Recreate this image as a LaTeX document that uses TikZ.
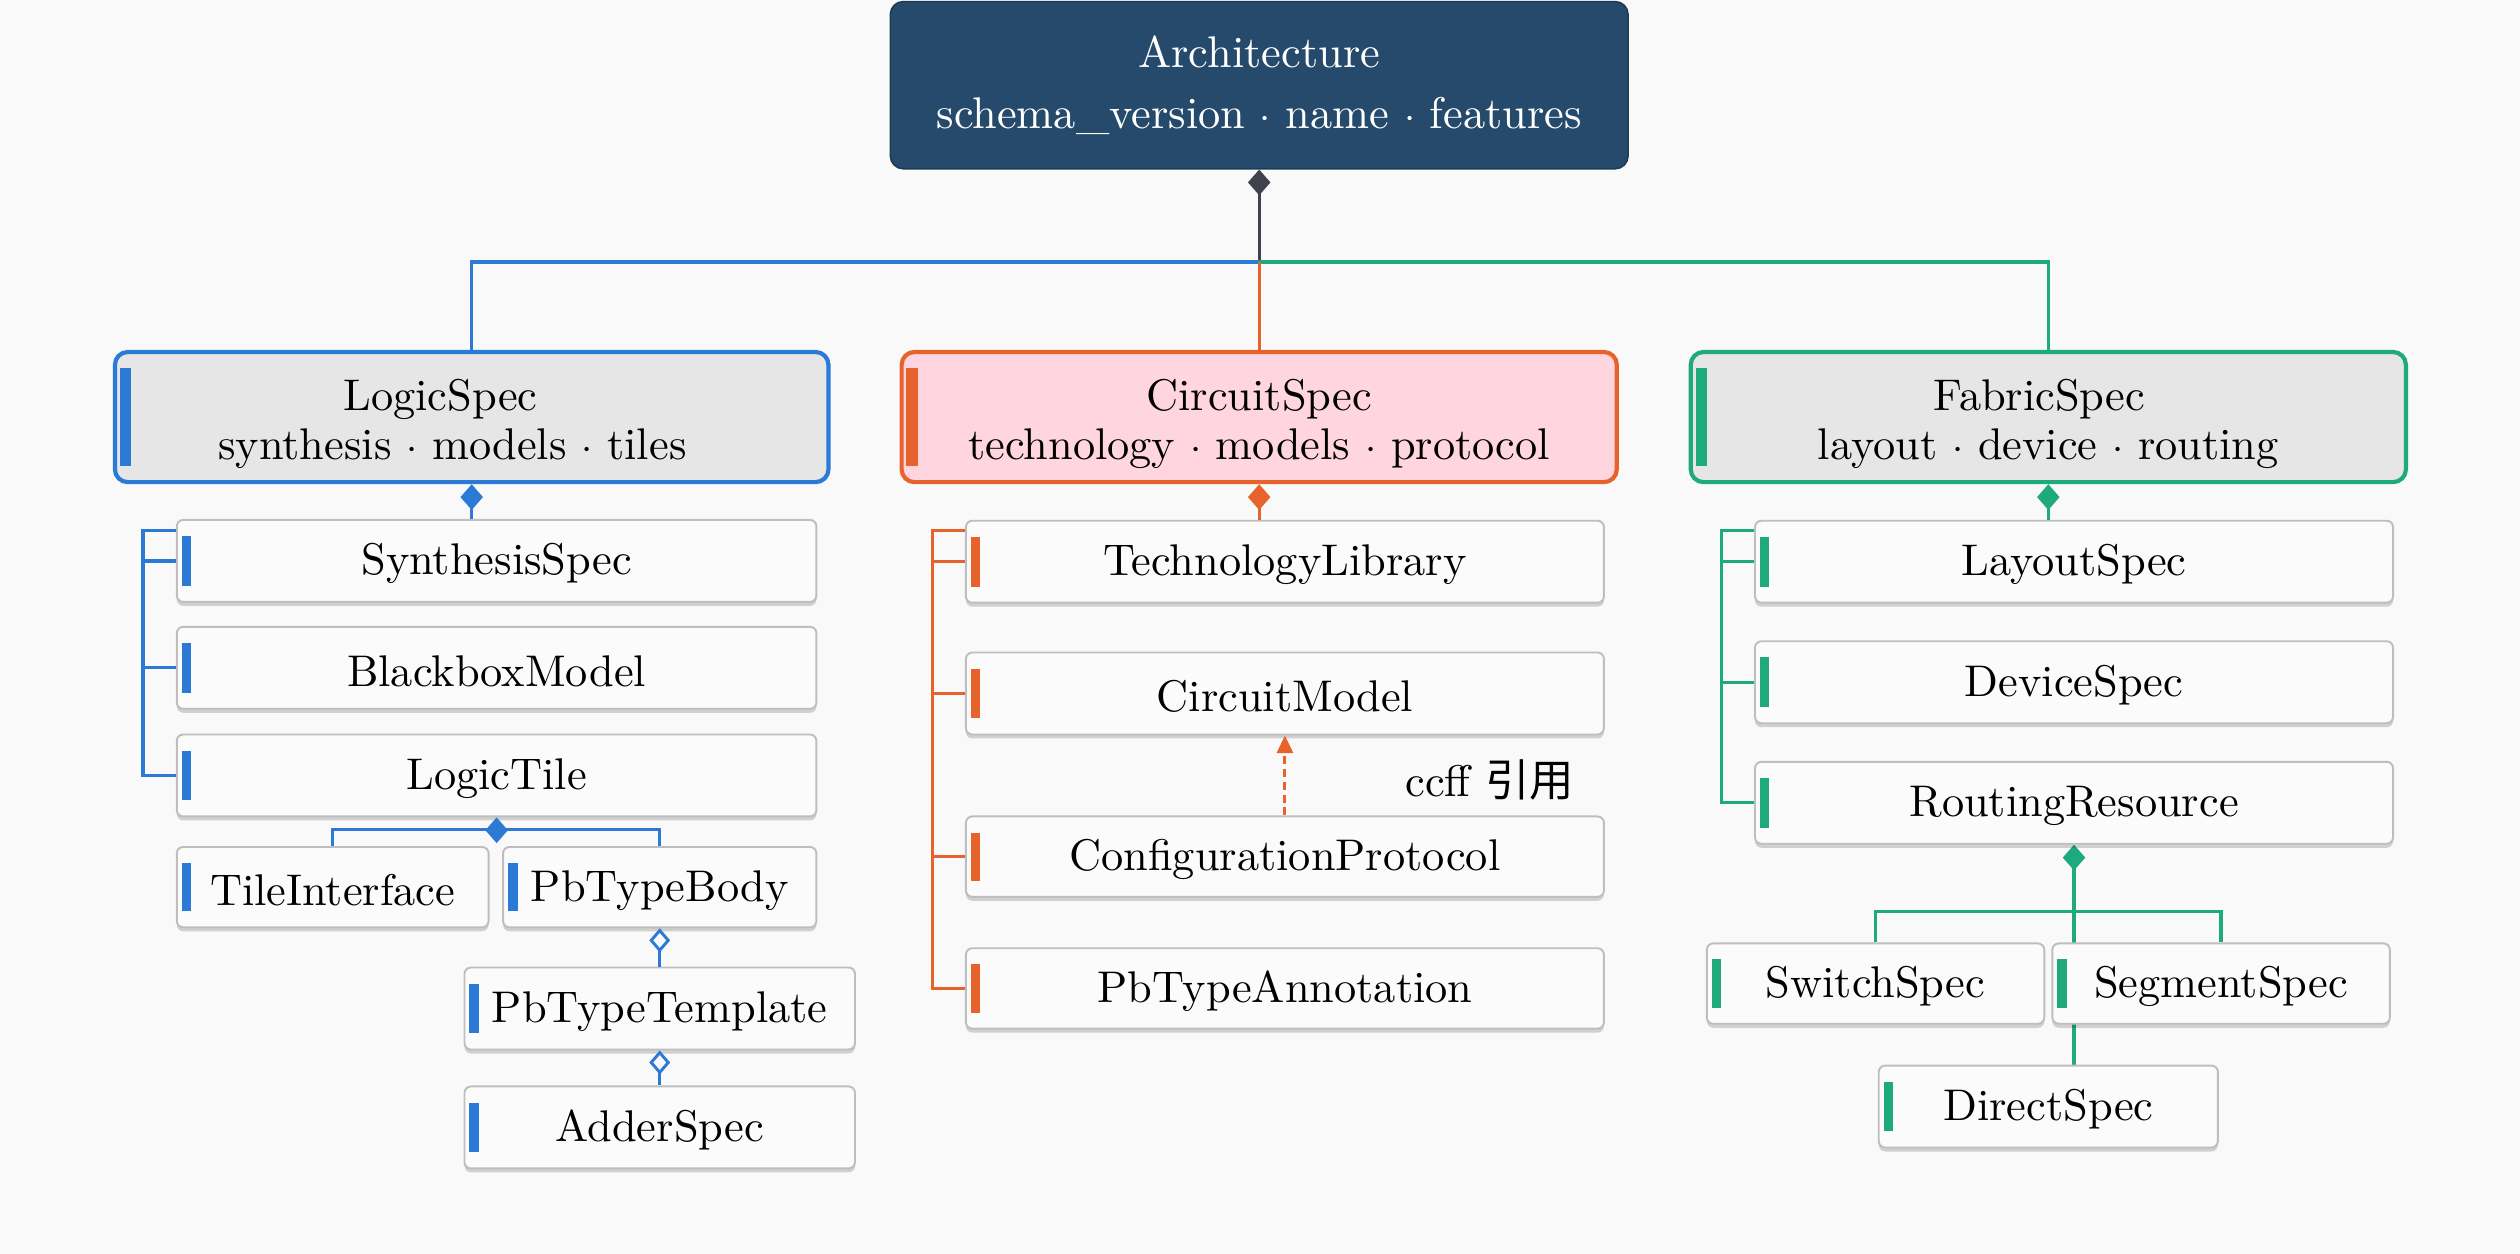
\documentclass[tikz,border=0pt]{standalone}
\usepackage{fontspec}
\setmainfont{lmroman10-regular}[Extension=.otf, BoldFont=lmroman10-bold, ItalicFont=lmroman10-italic]
\newfontfamily\cjk{Noto Sans CJK SC}
\usetikzlibrary{arrows.meta,shadows}
\pgfdeclarelayer{bg}
\pgfsetlayers{bg,main}
\definecolor{bgc}{RGB}{249,249,249}
\definecolor{archc}{RGB}{38,74,107}
\definecolor{grayc}{RGB}{62,66,78}
\definecolor{bluec}{RGB}{42,122,214}
\definecolor{orc}{RGB}{232,98,44}
\definecolor{grc}{RGB}{30,170,125}
\definecolor{pinkf}{RGB}{255,214,224}
\definecolor{grayf}{RGB}{230,230,230}
\definecolor{cbord}{RGB}{190,190,190}
\definecolor{cfill}{RGB}{251,251,251}
\newcommand{\upstrut}{\rule{0pt}{28pt}}
\tikzset{
  base/.style={rectangle, inner sep=0pt, align=center},
  topbox/.style={base, fill=archc, draw=archc!80!black, line width=1pt,
    rounded corners=8pt, text=white, minimum width=459pt, minimum height=104pt,
    font=\fontsize{27.6}{32}\selectfont},
  spec/.style={base, draw=#1, line width=2.6pt, rounded corners=8pt,
    minimum width=445pt, minimum height=81pt,
    font=\fontsize{27.6}{30}\selectfont,
    path picture={\fill[#1, sharp corners] ([xshift=3pt,yshift=10pt]path picture bounding box.south west)
      rectangle ([xshift=10pt,yshift=-10pt]path picture bounding box.north west);}},
  child/.style={base, draw=cbord, fill=cfill, line width=1.2pt, rounded corners=4pt,
    minimum height=51pt,
    execute at begin node={\rule{0pt}{23pt}},
    drop shadow={shadow xshift=0pt, shadow yshift=-2.5pt, opacity=0.16, fill=black},
    path picture={\fill[#1, sharp corners] ([xshift=3pt,yshift=10pt]path picture bounding box.south west)
      rectangle ([xshift=9pt,yshift=-10pt]path picture bounding box.north west);}},
  conn/.style={draw=#1, line width=2pt},
  comp/.style={draw=#1, line width=2pt, arrows={Diamond[length=16pt,width=14pt,fill=#1]-}},
  agg/.style={draw=#1, line width=1.8pt, arrows={Diamond[open,length=15pt,width=13pt,fill=bgc]-}},
  dref/.style={draw=#1, line width=1.8pt, dash pattern=on 5pt off 3pt,
    arrows={-Triangle[length=11pt,width=10pt,fill=#1]}},
}
\begin{document}
\begin{tikzpicture}[x=1pt,y=-1pt,font=\fontsize{27.6}{32}\selectfont]
\begin{pgfonlayer}{bg}
\fill[bgc] (0,0) rectangle (1568,780);
\end{pgfonlayer}
\useasboundingbox (0,0) rectangle (1568,780);

% top
\node[topbox] (arch) at (783.5,53) {Architecture\\[6pt]schema\_version $\cdot$ name $\cdot$ features};

% row 1
\node[spec=bluec, fill=grayf, minimum width=444pt] (logic) at (293.5,259.5)
  {\upstrut LogicSpec\hspace*{39pt}\\synthesis $\cdot$ models $\cdot$ tiles\hspace*{24pt}};
\node[spec=orc, fill=pinkf] (circuit) at (783.5,259.5)
  {\upstrut CircuitSpec\\technology $\cdot$ models $\cdot$ protocol};
\node[spec=grc, fill=grayf] (fabric) at (1274.5,259.5)
  {\upstrut FabricSpec\hspace*{11pt}\\layout $\cdot$ device $\cdot$ routing};

% logic children
\node[child=bluec, minimum width=398pt] (synth) at (309,349) {SynthesisSpec};
\node[child=bluec, minimum width=398pt] (bbox) at (309,415.5) {BlackboxModel};
\node[child=bluec, minimum width=398pt] (ltile) at (309,482.5) {LogicTile};
\node[child=bluec, minimum width=194pt, minimum height=50pt] (tintf) at (207,552) {TileInterface};
\node[child=bluec, minimum width=195pt, minimum height=50pt] (pbbody) at (410.5,552) {PbTypeBody};
\node[child=bluec, minimum width=243pt] (pbtemp) at (410.5,627.5) {PbTypeTemplate};
\node[child=bluec, minimum width=243pt] (adder) at (410.5,701.5) {AdderSpec};

% circuit children
\node[child=orc, minimum width=397pt] (techlib) at (799.5,349.5) {TechnologyLibrary};
\node[child=orc, minimum width=397pt] (cmodel) at (799.5,431.5) {CircuitModel};
\node[child=orc, minimum width=397pt, minimum height=50pt] (cprot) at (799.5,533) {ConfigurationProtocol};
\node[child=orc, minimum width=397pt, minimum height=50pt] (pbann) at (799.5,615) {PbTypeAnnotation};
\node[font=\fontsize{27.6}{32}\selectfont] (lbl) at (927,485) {ccff {\cjk 引用}};

% fabric children
\node[child=grc, minimum width=397pt] (layout) at (1290.5,349.5) {LayoutSpec};
\node[child=grc, minimum width=397pt] (device) at (1290.5,424.5) {DeviceSpec};
\node[child=grc, minimum width=397pt] (routing) at (1290.5,499.5) {RoutingResource};
\node[child=grc, minimum width=210pt, minimum height=50pt] (switch) at (1167,612) {SwitchSpec};
\node[child=grc, minimum width=210pt, minimum height=50pt] (segment) at (1382,612) {SegmentSpec};
\node[child=grc, minimum width=211pt] (direct) at (1274.5,688.5) {DirectSpec};

% junctions
\coordinate (aj) at (783.5,163);
\coordinate (tl) at (89,330);
\coordinate (tc) at (580,330);
\coordinate (tr) at (1071,330);
\coordinate (lj) at (309,516);
\coordinate (rj) at (1290.5,567);

% top connectors
\draw[comp=grayc] (arch.south) -- (aj);
\draw[conn=bluec] (aj) -| (logic.north);
\draw[conn=grc] (aj) -| (fabric.north);
\draw[conn=orc] (aj) -- (circuit.north);

\draw[comp=bluec] (logic.south) -- (logic.south |- synth.north);
\draw[comp=orc] (circuit.south) -- (circuit.south |- techlib.north);
\draw[comp=grc] (fabric.south) -- (fabric.south |- layout.north);

% logic tree
\draw[conn=bluec] (tl -| synth.west) -- (tl) -- (tl |- ltile.west) -- (ltile.west);
\draw[conn=bluec] (tl |- synth.west) -- (synth.west);
\draw[conn=bluec] (tl |- bbox.west) -- (bbox.west);
\draw[comp=bluec] (ltile.south) -- ++(0,14);
\draw[conn=bluec] (tintf.north) |- (lj) -| (pbbody.north);
\draw[agg=bluec] (pbbody.south) -- (pbtemp.north);
\draw[agg=bluec] (pbtemp.south) -- (adder.north);

% circuit tree
\draw[conn=orc] (tc -| techlib.west) -- (tc) -- (tc |- pbann.west) -- (pbann.west);
\draw[conn=orc] (tc |- techlib.west) -- (techlib.west);
\draw[conn=orc] (tc |- cmodel.west) -- (cmodel.west);
\draw[conn=orc] (tc |- cprot.west) -- (cprot.west);
\draw[dref=orc] (cprot.north) -- (cmodel.south);

% fabric tree
\draw[conn=grc] (tr -| layout.west) -- (tr) -- (tr |- routing.west) -- (routing.west);
\draw[conn=grc] (tr |- layout.west) -- (layout.west);
\draw[conn=grc] (tr |- device.west) -- (device.west);
\begin{pgfonlayer}{bg}
\draw[comp=grc] (routing.south) -- (routing.south |- direct.north);
\end{pgfonlayer}
\draw[conn=grc] (switch.north) |- (rj) -| (segment.north);
\end{tikzpicture}
\end{document}
